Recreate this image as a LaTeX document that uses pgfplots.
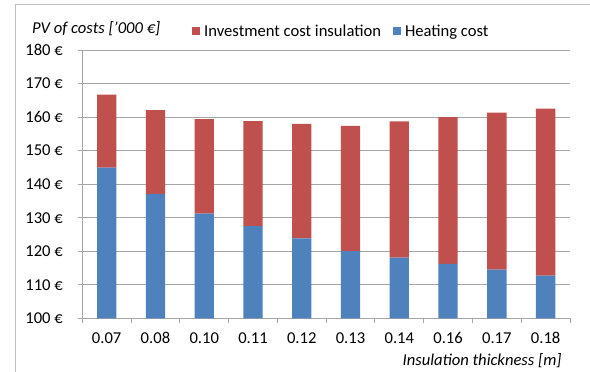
\documentclass[border=0pt]{standalone}
\usepackage{fontspec}
\setmainfont{Carlito}
\usepackage{pgfplots}
\pgfplotsset{compat=1.18}
\definecolor{heat}{HTML}{4F81BD}
\definecolor{invest}{HTML}{C0504D}
\definecolor{gridc}{HTML}{A6A6A6}
\definecolor{framec}{HTML}{BFBFBF}
\newcommand{\chartfont}{\fontsize{16.6bp}{20bp}\selectfont}
\begin{document}
\begin{tikzpicture}[x=1bp,y=1bp,font=\chartfont]
\useasboundingbox (0,0) rectangle (590,371);
\draw[framec, line width=1bp] (15,-5) -- (15,366.7) -- (600,366.7);
\begin{axis}[
  at={(82.3bp,52.7bp)}, anchor=south west,
  width=487.7bp, height=268.3bp, scale only axis,
  ybar stacked, bar width=19.3bp,
  xmin=-0.5, xmax=9.5, ymin=100, ymax=180,
  ytick={100,110,...,180},
  yticklabel={\pgfmathprintnumber{\tick}~€},
  xtick={-0.5,0.5,...,9.5},
  xticklabels={0.07,0.08,0.10,0.11,0.12,0.13,0.14,0.16,0.17,0.18},
  x tick label as interval,
  /pgf/number format/assume math mode=true,
  axis x line=bottom, axis y line=left,
  axis line style={gridc, line width=1bp, -},
  tick align=outside, major tick length=4.6bp,
  tick style={gridc, line width=1bp},
  ymajorgrids, grid style={gridc, line width=1bp},
  tick label style={font=\chartfont, text=black},
  yticklabel style={anchor=east, inner sep=0pt, xshift=-14.7bp},
  xticklabel style={anchor=base, inner sep=0pt, yshift=-21bp},
  legend style={at={(axis description cs:0.225,1.0708)}, anchor=west,
    draw=none, fill=none, inner sep=0pt, font=\chartfont,
    legend columns=-1,
    nodes={inner sep=0pt},
    /tikz/every odd column/.append style={column sep=4bp},
    /tikz/every even column/.append style={column sep=12bp}},
  legend image code/.code={\draw[#1,draw=none] (0bp,-4bp) rectangle (8bp,4bp);},
  reverse legend,
]
\addplot[fill=heat, draw=none] coordinates {
  (0,144.9) (1,137.1) (2,131.2) (3,127.5) (4,123.8)
  (5,120.0) (6,118.1) (7,116.2) (8,114.5) (9,112.7)};
\addlegendentry{Heating cost}
\addplot[fill=invest, draw=none] coordinates {
  (0,21.8) (1,25.0) (2,28.2) (3,31.3) (4,34.2)
  (5,37.4) (6,40.6) (7,43.8) (8,46.8) (9,49.8)};
\addlegendentry{Investment cost insulation}
\end{axis}
\node[anchor=base west, inner sep=0pt, font=\chartfont\itshape] at (32,338) {PV of costs ['000 €]};
\node[anchor=base east, inner sep=0pt, font=\chartfont\itshape] at (561.7,6) {Insulation thickness [m]};
\end{tikzpicture}
\end{document}
